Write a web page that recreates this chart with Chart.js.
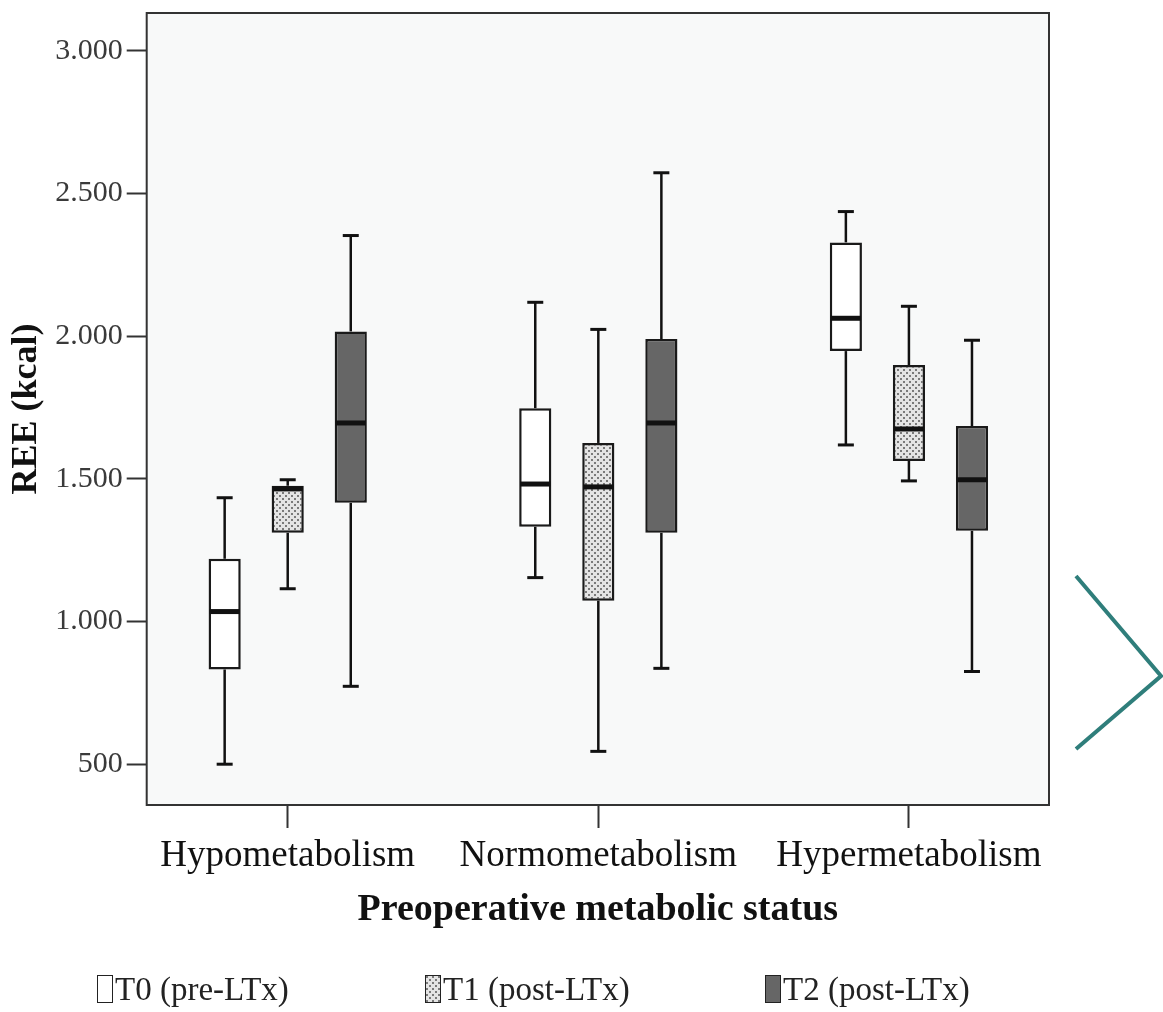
<!DOCTYPE html>
<html>
<head>
<meta charset="utf-8">
<script src="https://cdn.jsdelivr.net/npm/chart.js@4.4.1/dist/chart.umd.min.js"></script>
<style>
  html, body { margin: 0; padding: 0; background: #fff; }
  #wrap { position: relative; width: 1163px; height: 1012px; }
  #chart { position: absolute; left: 0; top: 0; }
  .lg { position: absolute; top: 975px; height: 28px; display: flex; align-items: center;
        font-family: 'Liberation Serif', serif; font-size: 33px; color: #222; }
  .sw { width: 16px; height: 28px; border: 1.5px solid #222; margin-right: 2px; box-sizing: border-box; }
  #deco { position: absolute; left: 0; top: 0; pointer-events: none; }
</style>
</head>
<body>
<div id="wrap">
  <canvas id="chart" width="1163" height="1012"></canvas>
  <div id="legend"></div>
  <svg id="deco" width="1163" height="1012">
    <polyline points="1076,576 1161,676 1076,749" fill="none" stroke="#2f7e7b" stroke-width="4"/>
  </svg>
</div>
<script>
/* ---- data ---- */
const categories = ['Hypometabolism', 'Normometabolism', 'Hypermetabolism'];
const xPositions = [1, 2, 3];
const seriesNames = ['T0 (pre-LTx)', 'T1 (post-LTx)', 'T2 (post-LTx)'];

// [min, q1, median, q3, max] per category
const t0Stats = [[500, 832, 1035, 1220, 1434], [1154, 1332, 1482, 1748, 2119], [1619, 1948, 2063, 2329, 2437]];
const t1Stats = [[1115, 1311, 1465, 1476, 1497], [545, 1073, 1472, 1626, 2024], [1493, 1563, 1675, 1899, 2105]];
const t2Stats = [[773, 1416, 1696, 2017, 2353], [836, 1311, 1696, 1990, 2573], [825, 1318, 1497, 1685, 1986]];

const yTicks = [500, 1000, 1500, 2000, 2500, 3000];
const yTickLabels = ['500', '1.000', '1.500', '2.000', '2.500', '3.000'];

const legendLeft = [97, 425, 765];

/* ---- pattern for T1 ---- */
const tile = document.createElement('canvas');
tile.width = 6; tile.height = 6;
const tg = tile.getContext('2d');
tg.fillStyle = '#e4e4e4'; tg.fillRect(0, 0, 6, 6);
tg.fillStyle = '#7a7a7a';
tg.fillRect(0, 0, 2, 2); tg.fillRect(3, 3, 2, 2);

const ctx = document.getElementById('chart').getContext('2d');
const dots = ctx.createPattern(tile, 'repeat');

const fills = ['#ffffff', dots, '#666666'];
const allStats = [t0Stats, t1Stats, t2Stats];

// ---- whiskers, medians, frame ----
const boxPlugin = {
  id: 'boxWhiskers',
  beforeDraw(chart) {
    const a = chart.chartArea, c = chart.ctx;
    c.save();
    c.fillStyle = '#f8f9f9';
    c.fillRect(a.left, a.top, a.right - a.left, a.bottom - a.top);
    c.restore();
  },
  afterDatasetsDraw(chart) {
    const c = chart.ctx, y = chart.scales.y;
    const line = (x1, y1, x2, y2) => { c.beginPath(); c.moveTo(x1, y1); c.lineTo(x2, y2); c.stroke(); };
    chart.data.datasets.forEach((ds, d) => {
      chart.getDatasetMeta(d).data.forEach((bar, i) => {
        const s = ds.stats[i];
        const x = bar.x, half = bar.width / 2;
        const pMin = y.getPixelForValue(s[0]), pQ1 = y.getPixelForValue(s[1]);
        const pMed = y.getPixelForValue(s[2]), pQ3 = y.getPixelForValue(s[3]);
        const pMax = y.getPixelForValue(s[4]);
        c.save();
        c.strokeStyle = '#111';
        c.lineWidth = 2.5;
        line(x, pQ1, x, pMin);
        line(x, pQ3, x, pMax);
        c.lineWidth = 3;
        line(x - 8, pMin, x + 8, pMin);
        line(x - 8, pMax, x + 8, pMax);
        c.lineWidth = 5;
        line(x - half + 1, pMed, x + half - 1, pMed);
        c.restore();
      });
    });
  },
  afterDraw(chart) {
    const a = chart.chartArea, c = chart.ctx;
    c.save();
    c.strokeStyle = '#333';
    c.lineWidth = 2;
    c.strokeRect(a.left, a.top, a.right - a.left, a.bottom - a.top);
    c.restore();
  },
};

new Chart(ctx, {
  type: 'bar',
  data: {
    datasets: seriesNames.map((name, d) => ({
      label: name,
      data: allStats[d].map((s, i) => ({ x: xPositions[i], y: [s[1], s[3]] })),
      stats: allStats[d],
      backgroundColor: fills[d],
      borderColor: '#1a1a1a',
      borderWidth: 2.5,
      borderSkipped: false,
      categoryPercentage: 0.609,
      barPercentage: 0.51,
    })),
  },
  options: {
    responsive: false,
    animation: false,
    layout: { padding: { left: 0, right: 114, top: 0, bottom: 79 } },
    plugins: { legend: { display: false }, tooltip: { enabled: false } },
    scales: {
      x: {
        type: 'linear',
        min: 0.546,
        max: 3.451,
        offset: false,
        afterBuildTicks: axis => { axis.ticks = xPositions.map(v => ({ value: v })); },
        grid: { offset: false, drawOnChartArea: false, tickLength: 23, tickColor: '#333', tickWidth: 2 },
        border: { display: false },
        ticks: {
          autoSkip: false, maxRotation: 0, padding: 6, color: '#111',
          font: { family: 'Liberation Serif', size: 37 },
          callback: v => categories[xPositions.indexOf(v)],
        },
        title: {
          display: true, text: 'Preoperative metabolic status', color: '#111',
          font: { family: 'Liberation Serif', size: 38, weight: 'bold' },
          padding: { top: 3, bottom: 0 },
        },
      },
      y: {
        min: 357,
        max: 3133,
        afterBuildTicks: axis => { axis.ticks = yTicks.map(v => ({ value: v })); },
        grid: { drawOnChartArea: false, tickLength: 20, tickColor: '#333', tickWidth: 2 },
        border: { display: false },
        ticks: {
          padding: 4, color: '#3a3a3a',
          font: { family: 'Liberation Serif', size: 30, lineHeight: 0.6 },
          callback: (v, i) => yTickLabels[i],
        },
        title: {
          display: true, text: 'REE (kcal)', color: '#111',
          font: { family: 'Liberation Serif', size: 36, weight: 'bold' },
          padding: { top: 5, bottom: 3 },
        },
      },
    },
  },
  plugins: [boxPlugin],
});

// ---- legend ----
const legendEl = document.getElementById('legend');
seriesNames.forEach((name, d) => {
  const item = document.createElement('div');
  item.className = 'lg';
  item.style.left = legendLeft[d] + 'px';
  const sw = document.createElement('span');
  sw.className = 'sw';
  if (d === 1) sw.style.backgroundImage = `url(${tile.toDataURL()})`;
  else sw.style.background = fills[d];
  item.appendChild(sw);
  item.appendChild(document.createTextNode(name));
  legendEl.appendChild(item);
});
</script>
</body>
</html>
